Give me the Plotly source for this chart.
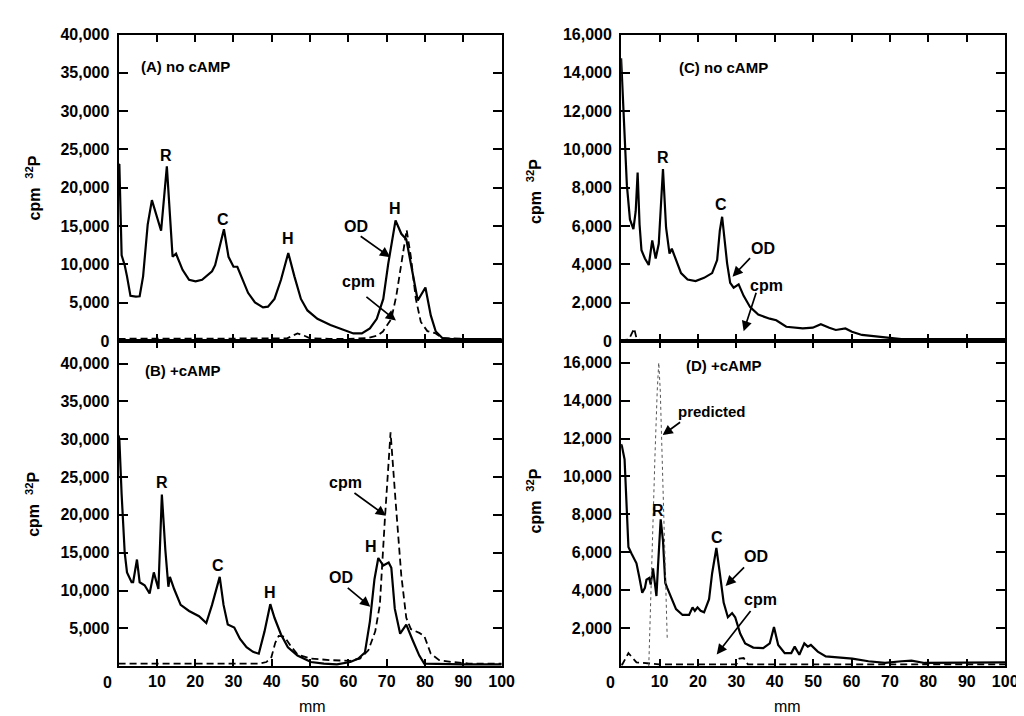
import plotly.graph_objects as go

# ---------------- data (mm, cpm 32P) ----------------
a_od_x = [0, 0.2, 0.8, 1.6, 2.2, 3.1, 4.5, 5.5, 6.4, 7.6, 8.7, 11.1, 12.6, 14.1, 15.0, 16.7, 18.4, 20.1, 21.8,
          24.4, 25.2, 26.5, 27.5, 28.7, 30.0, 31.0, 32.1, 33.8, 35.6, 37.7, 39.0, 40.7, 42.4, 44.3, 45.9, 47.6,
          49.3, 51.9, 55.3, 58.8, 61.3, 63.5, 65.6, 67.4, 69.1, 70.4, 72.3, 73.8, 75.1, 76.3, 78.1, 80.1, 81.5,
          82.8, 84.5, 87, 90, 95, 100]
a_od_y = [23000, 23100, 11200, 9900, 8450, 5900, 5800, 5850, 8450, 15200, 18400, 14400, 22800, 11000, 11400, 9300,
          8000, 7800, 8000, 9100, 9900, 12700, 14600, 11000, 9700, 9700, 8450, 6300, 5050, 4400, 4500, 5500, 8000,
          11500, 8450, 5500, 4000, 2900, 2100, 1450, 1000, 1000, 1650, 2900, 5500, 10100, 15750, 14000, 13300, 10100,
          5300, 7000, 3350, 1250, 400, 250, 250, 250, 250]
a_cpm_x = [0, 10, 20, 30, 40, 44, 45, 46.7, 48.5, 50, 55, 60, 65, 67.5, 69, 71.2, 72.5, 73.8, 75.2, 76.3, 77.6,
           78.9, 80.6, 82.8, 84.5, 90, 100]
a_cpm_y = [300, 300, 300, 300, 300, 350, 600, 1000, 700, 350, 300, 300, 400, 700, 1250, 2900, 5900, 10100, 14500,
           11000, 5500, 2500, 1300, 1000, 400, 300, 300]

b_od_x = [0, 0.2, 0.8, 1.6, 2.2, 3.4, 3.8, 4.8, 5.5, 6.8, 8.1, 9.2, 10.4, 11.3, 12.2, 13.0, 13.4, 14.5, 16.2, 18.4,
          21.0, 22.9, 24.4, 26.4, 27.4, 28.5, 30.2, 31.7, 33.4, 35.1, 36.6, 38.1, 39.6, 40.7, 42.4, 44.2, 46.7,
          50.2, 53.6, 57.0, 60.5, 62.6, 64.3, 65.6, 66.8, 67.8, 69.1, 70.5, 71.2, 72.1, 73.5, 75.1, 76.8, 78.5,
          79.8, 85, 90, 100]
b_od_y = [30500, 30000, 22700, 15000, 12400, 11100, 11100, 14100, 11100, 10700, 9600, 12400, 10200, 22700, 15400,
          10500, 11800, 10200, 8100, 7300, 6600, 5700, 8100, 11800, 8100, 5500, 5100, 3600, 2500, 1900, 1650, 4600,
          8200, 6400, 4200, 2500, 1400, 550, 350, 250, 550, 1000, 1800, 5900, 11500, 14300, 13300, 13700, 13000,
          7600, 4300, 5500, 3400, 1400, 350, 250, 250, 250]
b_cpm_x = [0, 10, 20, 30, 37, 38.6, 39.9, 40.9, 41.8, 43.3, 44.9, 46.7, 50.2, 55.3, 60.5, 63.0, 65.2, 67.0, 68.2,
           69.5, 71.0, 72.3, 73.8, 75.1, 76.3, 78.5, 79.8, 81.5, 83.7, 87.1, 91.4, 100]
b_cpm_y = [350, 350, 350, 350, 350, 550, 1200, 3100, 4000, 3900, 2700, 1550, 1000, 800, 700, 1000, 2100, 4600, 8100,
           19300, 30900, 21900, 12000, 6400, 4900, 4400, 4000, 1650, 800, 550, 350, 350]

c_od_x = [0, 0.3, 0.9, 1.5, 2.3, 3.2, 3.8, 4.3, 4.8, 5.3, 6.2, 7.2, 8.1, 9.0, 9.8, 10.9, 11.7, 12.6, 13.2, 14.1,
          15.6, 17.3, 19.4, 21.6, 23.7, 25.0, 25.7, 26.3, 26.9, 27.6, 28.4, 29.3, 30.6, 31.9, 33.6, 35.7, 38.7,
          40.4, 43.0, 47.3, 49.9, 52.0, 54.2, 55.9, 58.4, 60.1, 62.7, 66.2, 69.6, 73.0, 80, 90, 100]
c_od_y = [14760, 13570, 10500, 8140, 6350, 5840, 6780, 8800, 6100, 4740, 4310, 3970, 5250, 4310, 5080, 8980, 5930,
          4570, 4820, 4310, 3550, 3210, 3130, 3300, 3550, 4230, 5760, 6490, 5420, 4060, 3040, 2790, 2960, 2360, 1770,
          1380, 1170, 1090, 750, 660, 700, 880, 700, 580, 660, 490, 320, 240, 190, 100, 100, 100, 100]
c_cpm_x = [0, 2.0, 3.4, 4.0, 5.0, 20, 40, 60, 80, 100]
c_cpm_y = [50, 80, 660, 150, 50, 50, 50, 50, 50, 50]

d_od_x = [0, 0.2, 0.9, 1.3, 1.9, 2.7, 4.0, 4.7, 5.5, 6.2, 6.6, 7.3, 7.7, 8.3, 8.7, 9.2, 9.6, 10.3, 10.9, 11.5, 12.0,
          13.0, 14.3, 16.0, 17.7, 18.6, 19.2, 19.9, 20.7, 21.6, 22.9, 23.7, 24.8, 25.7, 26.7, 27.8, 28.9, 29.7,
          31.0, 32.3, 34.4, 37.0, 38.7, 39.8, 40.9, 42.6, 44.3, 45.2, 46.4, 47.7, 48.6, 49.4, 51.2, 53.3, 55.9,
          60.2, 64.4, 68.7, 73.0, 75.6, 79.0, 86.0, 94.4, 100]
d_od_y = [11700, 11600, 10900, 8700, 6280, 5940, 5420, 4730, 3870, 4130, 4560, 4650, 4300, 5160, 4560, 3700, 5250,
          7740, 6620, 4390, 4130, 3610, 3010, 2700, 2700, 3100, 2920, 3100, 2920, 2840, 3530, 4900, 6230, 4900, 3350,
          2580, 2800, 2580, 1720, 1200, 980, 950, 1200, 2060, 1120, 690, 690, 1030, 600, 1200, 1030, 1120, 770, 520,
          480, 400, 260, 170, 260, 290, 170, 170, 200, 200]
d_cpm_x = [0, 0.3, 1.9, 2.7, 4.0, 10, 20, 30.0, 30.8, 31.9, 33.0, 40, 60, 80, 100]
d_cpm_y = [100, 90, 690, 520, 200, 100, 100, 100, 400, 430, 100, 100, 100, 100, 100]
d_pred_x = [7.2, 7.6, 8.2, 8.8, 9.4, 9.8, 10.2, 10.8, 11.4, 12.0]
d_pred_y = [0, 3000, 7000, 11000, 14500, 16000, 14500, 10500, 6000, 1500]

x_ticks = [0, 10, 20, 30, 40, 50, 60, 70, 80, 90, 100]
left_ticks = [0, 5000, 10000, 15000, 20000, 25000, 30000, 35000, 40000]
right_ticks = [0, 2000, 4000, 6000, 8000, 10000, 12000, 14000, 16000]

FONT = "Liberation Sans, Arial, sans-serif"
fig = go.Figure()

solid = dict(color="black", width=2.2)
dashed = dict(color="black", width=1.8, dash="7px,4px")


def add(x, y, xa, ya, line):
    fig.add_trace(go.Scatter(x=x, y=y, mode="lines", line=line, xaxis=xa, yaxis=ya,
                             showlegend=False, hoverinfo="skip"))


add(a_od_x, a_od_y, "x", "y", solid)
add(a_cpm_x, a_cpm_y, "x", "y", dashed)
add(b_od_x, b_od_y, "x2", "y2", solid)
add(b_cpm_x, b_cpm_y, "x2", "y2", dashed)
add(c_od_x, c_od_y, "x3", "y3", solid)
add(c_cpm_x, c_cpm_y, "x3", "y3", dashed)
add(d_od_x, d_od_y, "x4", "y4", solid)
add(d_cpm_x, d_cpm_y, "x4", "y4", dashed)
add(d_pred_x, d_pred_y, "x4", "y4", dict(color="#555", width=1, dash="dot"))

W, H = 1024, 716


def fx(px):
    return px / W


def fy(py):
    return (H - py) / H


L_dom = [fx(112), fx(500)]
R_dom = [fx(621), fx(1010)]
T_dom = [fy(333), fy(19)]
B_dom = [fy(666), fy(333)]

TICKFONT = dict(family=FONT, size=16, color="black", weight="bold")
common_ax = dict(showline=True, linecolor="black", linewidth=2, mirror="ticks", ticks="inside",
                 tickcolor="black", tickwidth=1.5, showgrid=False, zeroline=False, tickfont=TICKFONT)


def xax(dom, anchor, labels):
    return dict(common_ax, domain=dom, anchor=anchor, range=[0, 100], tickvals=x_ticks[1:], ticklen=7,
                showticklabels=labels)


def yax(dom, anchor, rng, ticks):
    return dict(common_ax, domain=dom, anchor=anchor, range=rng, tickvals=ticks, ticklen=9,
                tickformat=",d", ticklabelstandoff=4)


fig.update_layout(
    width=W, height=H, margin=dict(l=0, r=0, t=0, b=0),
    paper_bgcolor="white", plot_bgcolor="white",
    font=dict(family=FONT, size=16, color="black"),
    xaxis=xax(L_dom, "y", False),
    yaxis=yax(T_dom, "x", [0, 40000], left_ticks),
    xaxis2=xax(L_dom, "y2", True),
    yaxis2=yax(B_dom, "x2", [0, 42970], left_ticks[1:]),
    xaxis3=xax(R_dom, "y3", False),
    yaxis3=yax(T_dom, "x3", [0, 16000], right_ticks),
    xaxis4=xax(R_dom, "y4", True),
    yaxis4=yax(B_dom, "x4", [0, 17135], right_ticks[1:]),
)

ann = []


def txt(xr, yr, x, y, s, anchor="center", size=16):
    ann.append(dict(xref=xr, yref=yr, x=x, y=y, text="<b>%s</b>" % s, showarrow=False, xanchor=anchor,
                    yanchor="middle", font=dict(family=FONT, size=size, color="black")))


def arrow(xr, yr, x, y, ax, ay):
    ann.append(dict(xref=xr, yref=yr, x=x, y=y, ax=ax, ay=ay, text="", showarrow=True, arrowhead=2,
                    arrowsize=1.2, arrowwidth=1.7, arrowcolor="black"))


# Panel A
txt("x", "y", 5.4, 35800, "(A) no cAMP", "left", 15)
txt("x", "y", 12.4, 24200, "R")
txt("x", "y", 27.3, 15900, "C")
txt("x", "y", 44.3, 13400, "H")
txt("x", "y", 62.1, 15000, "OD")
txt("x", "y", 72.2, 17300, "H")
txt("x", "y", 62.6, 7770, "cpm")
arrow("x", "y", 70.9, 10955, -31, -22)
arrow("x", "y", 72.4, 2675, -31, -25)
# Panel B
txt("x2", "y2", 6.4, 39100, "(B) +cAMP", "left", 15)
txt("x2", "y2", 11.3, 24260, "R")
txt("x2", "y2", 26.0, 13290, "C")
txt("x2", "y2", 39.4, 9800, "H")
txt("x2", "y2", 59.3, 24260, "cpm")
txt("x2", "y2", 66.0, 15870, "H")
txt("x2", "y2", 58.0, 11740, "OD")
arrow("x2", "y2", 69.8, 19870, -33, -24)
arrow("x2", "y2", 65.7, 7870, -24, -20)
# Panel C
txt("x3", "y3", 14.6, 14270, "(C) no cAMP", "left", 15)
txt("x3", "y3", 10.8, 9580, "R")
txt("x3", "y3", 26.0, 7130, "C")
txt("x3", "y3", 37.0, 4840, "OD")
txt("x3", "y3", 37.8, 2900, "cpm")
arrow("x3", "y3", 29.0, 3363, 19, -20)
arrow("x3", "y3", 31.9, 510, 13, -40)
# Panel D
txt("x4", "y4", 16.5, 15850, "(D) +cAMP", "left", 15)
txt("x4", "y4", 14.4, 13420, "predicted", "left", 15)
txt("x4", "y4", 9.5, 8200, "R")
txt("x4", "y4", 24.9, 6760, "C")
txt("x4", "y4", 35.0, 5780, "OD")
txt("x4", "y4", 36.2, 3510, "cpm")
arrow("x4", "y4", 10.8, 12180, 19, -14)
arrow("x4", "y4", 27.2, 4230, 20, -20)
arrow("x4", "y4", 24.9, 620, 35, -45)

# x = 0 tick labels (set slightly left of the axis, as in the original)
for xr, yr in (("x2", "y2"), ("x4", "y4")):
    ann.append(dict(xref=xr, yref=yr, x=0, y=0, text="<b>0</b>", showarrow=False, xanchor="center",
                    yanchor="top", xshift=-11, yshift=-6, font=dict(family=FONT, size=16, color="black")))

# axis titles
ytitle = "<b>cpm  <sup>32</sup>P</b>"
for px, py in ((25, 176), (25, 500), (533, 180), (533, 497)):
    ann.append(dict(xref="paper", yref="paper", x=fx(px), y=fy(py), text=ytitle, showarrow=False,
                    textangle=-90, xanchor="center", yanchor="middle",
                    font=dict(family=FONT, size=16, color="black")))
for px in (308, 790):
    ann.append(dict(xref="paper", yref="paper", x=fx(px), y=fy(707), text="mm", showarrow=False,
                    xanchor="center", yanchor="middle", font=dict(family=FONT, size=16, color="black")))

fig.update_layout(annotations=ann)
fig.write_html("out.html")
